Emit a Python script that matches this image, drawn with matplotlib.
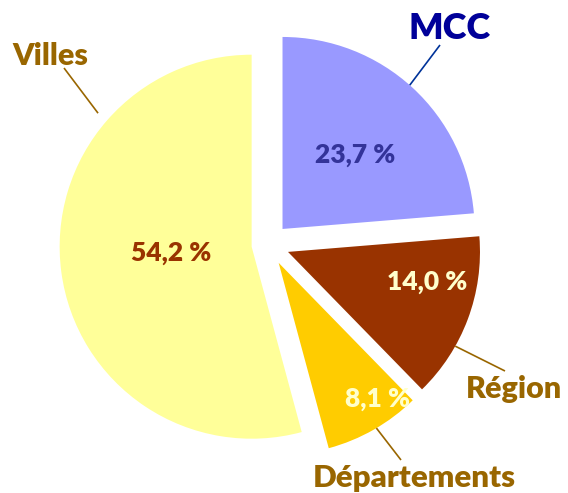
import numpy as np
import matplotlib.pyplot as plt

plt.rcParams['font.family'] = ['Lato', 'DejaVu Sans']

# data
labels = ['MCC', 'Région', 'Départements', 'Villes']
shares = [23.7, 14.0, 8.1, 54.2]
colors = ['#9999FF', '#993300', '#FFCC00', '#FFFF99']
pct_colors = ['#333399', '#FFFFCC', '#FFFFCC', '#993300']
label_colors = ['#000099', '#996600', '#996600', '#996600']
line_colors = ['#003399', '#996600', '#996600', '#996600']
explode = [0.11, 0.11, 0.11, 0.087]

# layout (pixels of the 568x493 picture, measured from top-left)
W, H = 568, 493
R_PX = 192.0
CX, CY = 268.2, 244.5
pct_dist = [0.54, 0.74, 0.875, 0.42]
pct_angle = [45.6, -12.2, -54.0, 184.5]
anchor_angle = [48.5, -29.4, -59.4, 139.0]
anchor_rad = [1.0, 1.0, 1.0, 1.06]
line_end = [(440, 45), (505, 371), (401, 460), (64, 68)]
label_pos = [(450, 39), (514, 398), (414, 487), (50, 65)]
label_size = [26, 22, 22.5, 22]


def px(x, y):
    return (x - CX) / R_PX, (CY - y) / R_PX


fig = plt.figure(figsize=(W / 100, H / 100), dpi=100)
ax = fig.add_axes([0, 0, 1, 1])

wedges, _ = ax.pie(shares, colors=colors, explode=explode, startangle=90,
                   counterclock=False, radius=1,
                   wedgeprops=dict(linewidth=0))

x0, y1 = px(0, 0)
x1, y0 = px(W, H)
ax.set_xlim(x0, x1)
ax.set_ylim(y0, y1)
ax.set_aspect('equal')
ax.axis('off')

for i, w in enumerate(wedges):
    cx, cy = w.center
    # percentage inside the slice
    a = np.radians(pct_angle[i])
    txt = f'{shares[i]:.1f} %'.replace('.', ',')
    ax.text(cx + pct_dist[i] * np.cos(a), cy + pct_dist[i] * np.sin(a), txt,
            ha='center', va='center', fontsize=19, fontweight='heavy',
            color=pct_colors[i])
    # leader line from slice edge to the name
    b = np.radians(anchor_angle[i])
    r = anchor_rad[i]
    ex, ey = px(*line_end[i])
    ax.plot([cx + r * np.cos(b), ex], [cy + r * np.sin(b), ey],
            color=line_colors[i], lw=1.2, solid_capstyle='butt')
    lx, ly = px(*label_pos[i])
    ax.text(lx, ly, labels[i], ha='center', va='baseline',
            fontsize=label_size[i], fontweight='heavy', color=label_colors[i])

fig.savefig('out.png', dpi=100)
